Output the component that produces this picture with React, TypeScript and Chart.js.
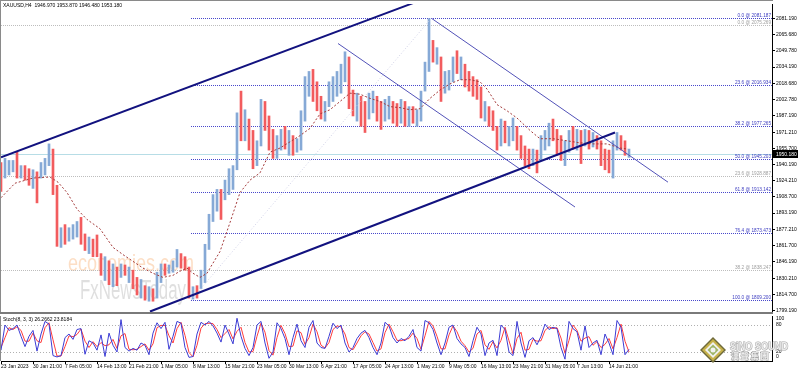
import React, { useEffect, useRef } from 'react';
import { Chart, registerables } from 'chart.js';
Chart.register(...registerables);

const FONT = "'Liberation Sans', Arial, sans-serif";
const BAR_STEP = 4;

// ---- price data (H4 bars, sampled) ----
const highs = [1942,1946,1944,1944,1952,1939,1939,1936,1935,1933,
 1942,1946,1960,1955,1920,1879,1882,1879,1882,1885,
 1889,1873,1870,1868,1872,1854,1851,1847,1844,1841,
 1844,1843,1841,1838,1831,1829,1823,1822,1820,1836,
 1844,1844,1843,1847,1858,1854,1851,1841,1822,1823,
 1838,1863,1892,1911,1916,1916,1925,1936,1939,1990,
 2011,1993,1984,1973,1963,2003,2001,1987,1974,1968,
 1974,1977,1973,1968,1965,1992,2025,2030,2032,2020,
 2006,2001,2020,2025,2030,2037,2049,2044,2012,2009,
 2006,2001,2009,2011,2006,2001,2003,2006,2001,1999,
 2003,2001,1996,1996,1993,2011,2039,2081,2060,2053,
 2044,2030,2031,2044,2050,2044,2037,2030,2025,2022,
 2015,2001,1996,1992,1977,1984,1982,1977,1985,1977,
 1968,1958,1955,1955,1954,1968,1973,1980,1984,1974,
 1968,1963,1973,1977,1974,1973,1974,1973,1971,1968,
 1963,1955,1954,1963,1971,1968,1963,1955];
const lows = [1914,1927,1930,1933,1927,1927,1925,1920,1917,1903,
 1927,1930,1939,1911,1861,1860,1863,1866,1868,1870,
 1863,1857,1854,1851,1851,1833,1828,1824,1822,1823,
 1831,1833,1826,1820,1814,1811,1809,1808,1808,1811,
 1826,1833,1835,1836,1841,1840,1838,1811,1810,1811,
 1820,1826,1858,1885,1895,1887,1906,1911,1916,1935,
 1963,1963,1954,1936,1939,1958,1973,1954,1946,1946,
 1954,1955,1949,1949,1952,1954,1982,2006,2001,1992,
 1984,1982,1996,2001,2006,2009,2020,1994,1987,1982,
 1977,1971,1984,1990,1982,1974,1982,1984,1980,1977,
 1980,1977,1977,1980,1977,1982,2011,2030,2039,2037,
 2001,2009,2012,2020,2028,2022,2015,2011,2006,2003,
 1985,1982,1977,1973,1954,1958,1961,1958,1963,1954,
 1946,1939,1936,1939,1932,1944,1954,1958,1963,1949,
 1944,1939,1952,1955,1954,1941,1958,1955,1957,1955,
 1939,1935,1932,1927,1954,1954,1949,1947];
const directions = ['duuududdud','uuudduduuu','ddudddudud','ududdududu','uduuudddud',
 'uuuuuduuuu','dudduudddu','ududuuuudd','duuuuuuddu','dduudduudd','ududuuuudu',
 'duuududddd','duddduduud','ddduduuudd','duudududud','ddduuddu'].join('');

// moving average (bar index, price)
const maBars = [0,14,32,49,57,66,76,86,99,112,122,142,152,162,172,179,186,192,199,206,209,219,229,239,249,259,269,279,289,299,309,319,329,339,349,359,369,379,389,399,409,419,429,439,449,459,469,479,486,496,506,516,529,539,552,566,579,592,606,619,627];
const maValues = [1908,1922,1927,1928,1923,1913,1897,1887,1878,1860,1853,1840,1835,1831,1833,1837,1840,1835,1831,1835,1840,1856,1884,1913,1925,1932,1952,1956,1962,1968,1975,1989,1993,2001,2009,2008,2004,2001,1996,1995,1993,1994,2004,2012,2018,2022,2022,2020,2013,1998,1992,1985,1973,1965,1965,1963,1961,1960,1960,1956,1955];

// stochastic
const stochK = [24,80,68,72,80,55,32,55,68,22,60,88,82,12,9,12,52,60,48,70,72,15,45,40,24,58,10,62,35,20,92,30,22,28,24,40,35,14,62,85,72,86,26,55,88,84,30,8,10,60,86,80,88,78,62,42,80,60,38,95,55,28,12,30,80,88,40,6,20,85,72,50,14,52,82,45,30,75,90,40,30,28,55,84,72,80,40,20,30,50,62,68,52,30,14,40,86,78,52,40,50,45,55,70,30,22,90,85,70,40,14,40,75,80,50,38,30,10,45,75,60,12,40,46,12,80,70,20,12,88,40,8,45,52,36,55,82,70,75,72,30,4,88,72,65,24,78,30,40,46,14,60,40,14,90,75,14,26];
const stochD = [30,52,74,70,76,68,44,44,62,45,41,74,85,47,11,11,32,56,54,59,71,44,30,43,32,41,34,36,48,28,56,61,26,25,26,32,38,24,38,74,79,79,56,40,72,86,57,19,9,35,73,83,84,83,70,52,61,70,49,66,75,41,20,21,55,84,64,23,13,52,79,61,32,33,67,63,37,52,82,65,35,29,41,70,78,76,60,30,25,40,56,65,60,41,22,27,63,82,65,46,45,48,50,62,50,26,56,88,78,55,27,27,58,78,65,44,34,20,28,60,68,36,26,43,29,46,75,45,16,50,64,24,26,48,44,45,68,76,72,74,51,17,46,80,68,44,51,54,35,43,30,37,50,27,52,82,44,20];
const stochLevels = [80, 20];
const stochAxisLabels = [100, 80, 20, 0];

// axes
const priceTicks = [2081.19,2065.68,2049.78,2034.19,2018.68,2002.78,1987.19,1971.21,1955.70,1940.19,1924.21,1908.70,1893.19,1877.21,1861.70,1846.19,1830.21,1814.70,1799.19];
const dateTickBars = [0,32,64,96,128,160,192,224,256,288,320,352,384,416,448,480,512,544,576,608];
const dateLabels = ['23 Jan 2023','30 Jan 21:00','7 Feb 05:00','14 Feb 13:00','21 Feb 21:00','1 Mar 05:00','8 Mar 13:00','15 Mar 21:00','23 Mar 05:00','30 Mar 13:00','6 Apr 21:00','17 Apr 05:00','24 Apr 13:00','1 May 21:00','9 May 05:00','16 May 13:00','23 May 21:00','31 May 05:00','7 Jun 13:00','14 Jun 21:00'];

// fibonacci
const blueFibLevels = ['0.0','23.6','38.2','50.0','61.8','76.4','100.0'];
const blueFibPrices = [2081.187,2016.934,1977.265,1945.203,1913.142,1873.473,1809.200];
const blueFibStartBar = 190;
const grayFibLevels = ['0.0','23.6','38.2'];
const grayFibPrices = [2075.269,1928.887,1838.247];
const grayFibStartBar = 0;

// trend lines: [startBar, startPrice, endBar, endPrice]
const thickChannel = [[0,1947,412,2096],[149,1798,614,1971]];
const thinChannel = [[431,2081,667,1923],[337,2057,574,1899]];
const fibTrend = [190,1809,430,2081];

const lastPrice = 1950.18;
const headerText = 'XAUUSD,H4  1946.970 1953.870 1946.480 1953.180';
const stochTitle = 'Stoch(8, 3, 3) 26.2662 23.8184';

const UP = '#86a9d6';
const DOWN = '#f25c5e';

const lineDs = (seg: number[], color: string, width: number, dash: number[] = []) => ({
  type: 'line' as const,
  data: [{ x: seg[0], y: seg[1] }, { x: seg[2], y: seg[3] }],
  borderColor: color,
  borderWidth: width,
  borderDash: dash,
  pointRadius: 0,
  order: 0,
});

const mainOverlay = {
  id: 'mainOverlay',
  beforeDatasetsDraw(chart: any) {
    const { ctx, chartArea: a, scales } = chart;
    const x = scales.x, y = scales.y;
    ctx.save();
    ctx.beginPath();
    ctx.rect(a.left, a.top, a.right - a.left, a.bottom - a.top);
    ctx.clip();
    // watermarks
    ctx.font = `24px ${FONT}`;
    ctx.fillStyle = 'rgba(245,160,90,0.35)';
    ctx.textBaseline = 'alphabetic';
    ctx.textAlign = 'left';
    ctx.fillText('economies.com', 68, 271, 126);
    ctx.font = `27px ${FONT}`;
    ctx.fillStyle = 'rgba(150,150,150,0.3)';
    ctx.fillText('FxNewsToday', 80, 299, 106);
    // current price line
    const py = Math.round(y.getPixelForValue(lastPrice)) + 0.5;
    ctx.strokeStyle = '#b7dde6';
    ctx.lineWidth = 1;
    ctx.beginPath(); ctx.moveTo(a.left, py); ctx.lineTo(a.right, py); ctx.stroke();
    // fib levels
    const drawFib = (levels: string[], prices: number[], start: number, color: string, textColor: string) => {
      const sx = x.getPixelForValue(start);
      ctx.strokeStyle = color;
      ctx.setLineDash([1, 1]);
      prices.forEach((p, i) => {
        const ly = Math.round(y.getPixelForValue(p)) + 0.5;
        ctx.beginPath(); ctx.moveTo(sx, ly); ctx.lineTo(a.right, ly); ctx.stroke();
        ctx.font = `4.7px ${FONT}`;
        ctx.fillStyle = textColor;
        ctx.textAlign = 'right';
        ctx.textBaseline = 'bottom';
        ctx.fillText(`${levels[i]} @ ${p.toFixed(3)}`, a.right - 1, ly - 0.5);
      });
      ctx.setLineDash([]);
    };
    drawFib(grayFibLevels, grayFibPrices, grayFibStartBar, '#bdbdbd', '#a0a0a0');
    drawFib(blueFibLevels, blueFibPrices, blueFibStartBar, '#4848cc', '#3c3cc0');
    ctx.restore();
  },
  afterDraw(chart: any) {
    const { ctx, chartArea: a, scales } = chart;
    const y = scales.y;
    ctx.save();
    ctx.fillStyle = '#8a8a8a';
    ctx.fillRect(0, 0, a.right + 1, 1);
    ctx.fillRect(0, 0, 1, a.bottom);
    ctx.fillStyle = '#7a7a7a';
    ctx.fillRect(0, a.bottom, a.right + 1, 2);
    // header
    ctx.font = `5px ${FONT}`;
    ctx.fillStyle = '#000';
    ctx.textAlign = 'left';
    ctx.textBaseline = 'middle';
    ctx.fillText(headerText, 3, 6);
    // price tag
    const py = Math.round(y.getPixelForValue(lastPrice));
    ctx.fillStyle = '#000';
    ctx.fillRect(a.right + 1, py - 4, 25, 8);
    ctx.fillStyle = '#fff';
    ctx.fillText(lastPrice.toFixed(3), a.right + 4, py + 0.5);
    ctx.restore();
  },
};

const stochOverlay = {
  id: 'stochOverlay',
  beforeDatasetsDraw(chart: any) {
    const { ctx, chartArea: a, scales } = chart;
    const y = scales.y;
    ctx.save();
    ctx.strokeStyle = '#b0b0b0';
    ctx.setLineDash([1, 2]);
    ctx.lineWidth = 1;
    stochLevels.forEach((lv) => {
      const ly = Math.round(y.getPixelForValue(lv)) + 0.5;
      ctx.beginPath(); ctx.moveTo(a.left, ly); ctx.lineTo(a.right, ly); ctx.stroke();
    });
    ctx.restore();
  },
  afterDraw(chart: any) {
    const { ctx, chartArea: a, scales } = chart;
    const y = scales.y;
    ctx.save();
    ctx.fillStyle = '#8a8a8a';
    ctx.fillRect(0, 0, 1, a.bottom);
    ctx.font = `5px ${FONT}`;
    ctx.fillStyle = '#000';
    ctx.textAlign = 'left';
    ctx.textBaseline = 'middle';
    ctx.fillText(stochTitle, 3, 3.5);
    stochAxisLabels.forEach((v) => {
      let ly = y.getPixelForValue(v);
      if (v === 100) ly += 3;
      if (v === 0) ly -= 4;
      ctx.fillText(String(v), a.right + 4, ly);
    });
    // SINO SOUND watermark
    const cx = 713, cy = 34;
    const dia = (r: number, c: string) => {
      ctx.fillStyle = c;
      ctx.beginPath();
      ctx.moveTo(cx, cy - r); ctx.lineTo(cx + r, cy); ctx.lineTo(cx, cy + r); ctx.lineTo(cx - r, cy);
      ctx.closePath(); ctx.fill();
    };
    dia(13, '#6f6a3a');
    dia(11, '#c7b24a');
    dia(8, '#f2f2f2');
    dia(5.5, '#9fb567');
    ctx.fillStyle = '#f2f2f2';
    ctx.beginPath(); ctx.arc(cx, cy, 2.5, 0, Math.PI * 2); ctx.fill();
    ctx.font = `bold 11px ${FONT}`;
    ctx.textBaseline = 'alphabetic';
    ctx.lineWidth = 1.2;
    ctx.strokeStyle = 'rgba(130,130,130,0.7)';
    ctx.strokeText('SiNO SOUND', 730, 34, 58);
    ctx.fillStyle = '#ececec';
    ctx.fillText('SiNO SOUND', 730, 34, 58);
    ctx.font = `bold 8px 'Noto Sans CJK TC', sans-serif`;
    ctx.strokeText('漢 聲 集 團', 731, 43, 56);
    ctx.fillText('漢 聲 集 團', 731, 43, 56);
    ctx.restore();
  },
};

export default function App() {
  const mainRef = useRef<HTMLCanvasElement>(null);
  const stochRef = useRef<HTMLCanvasElement>(null);

  useEffect(() => {
    document.body.style.margin = '0';
    const barData = highs.map((h, i) => ({ x: i * BAR_STEP, y: [lows[i], h] }));
    const barColors = directions.split('').map((d) => (d === 'u' ? UP : DOWN));
    const main = new Chart(mainRef.current!, {
      type: 'bar',
      data: {
        datasets: [
          lineDs(thickChannel[0], '#12127f', 2),
          lineDs(thickChannel[1], '#12127f', 2),
          lineDs(thinChannel[0], '#5252b8', 1),
          lineDs(thinChannel[1], '#5252b8', 1),
          {
            type: 'line',
            data: maBars.map((b, i) => ({ x: b, y: maValues[i] })),
            borderColor: '#a33a3a',
            borderWidth: 1,
            borderDash: [2, 2],
            pointRadius: 0,
            order: 1,
          },
          lineDs(fibTrend, '#cfd0e6', 1, [1, 2]),
          {
            type: 'bar',
            data: barData as any,
            backgroundColor: barColors,
            barThickness: 2,
            order: 5,
          },
        ] as any,
      },
      options: {
        animation: false,
        responsive: false,
        maintainAspectRatio: false,
        layout: { padding: { left: 1, top: 1, right: 0, bottom: 2 } },
        plugins: { legend: { display: false }, tooltip: { enabled: false } },
        scales: {
          x: { type: 'linear', min: 0, max: 771, display: false, offset: false },
          y: {
            type: 'linear',
            position: 'right',
            min: 1797.57,
            max: 2095.17,
            afterFit: (s: any) => { s.width = 26; },
            afterBuildTicks: (s: any) => { s.ticks = priceTicks.map((v) => ({ value: v })); },
            ticks: {
              autoSkip: false,
              font: { size: 5, family: FONT },
              color: '#000',
              padding: 1,
              callback: (v: any) => Number(v).toFixed(3),
            },
            grid: { drawOnChartArea: false, tickLength: 3, color: '#000' },
            border: { color: '#000' },
          },
        },
      } as any,
      plugins: [mainOverlay],
    });

    const stoch = new Chart(stochRef.current!, {
      type: 'line',
      data: {
        datasets: [
          {
            data: stochK.map((v, i) => ({ x: i * BAR_STEP, y: v })),
            borderColor: '#3c3cd4',
            borderWidth: 1,
            pointRadius: 0,
          },
          {
            data: stochD.map((v, i) => ({ x: i * BAR_STEP, y: v })),
            borderColor: '#ff3c3c',
            borderWidth: 1,
            pointRadius: 0,
          },
        ],
      },
      options: {
        animation: false,
        responsive: false,
        maintainAspectRatio: false,
        layout: { padding: { left: 1, top: 0, right: 0, bottom: 0 } },
        plugins: { legend: { display: false }, tooltip: { enabled: false } },
        scales: {
          x: {
            type: 'linear',
            min: 0,
            max: 771,
            afterFit: (s: any) => { s.height = 11; },
            afterBuildTicks: (s: any) => { s.ticks = dateTickBars.map((v) => ({ value: v })); },
            ticks: {
              autoSkip: false,
              maxRotation: 0,
              align: 'start',
              font: { size: 5, family: FONT },
              color: '#000',
              padding: 0,
              callback: (_v: any, idx: number) => dateLabels[idx],
            },
            grid: { drawOnChartArea: false, tickLength: 3, color: '#000' },
            border: { color: '#000' },
          },
          y: {
            type: 'linear',
            position: 'right',
            min: 0,
            max: 100,
            afterFit: (s: any) => { s.width = 26; },
            ticks: { display: false },
            grid: { display: false },
            border: { color: '#000' },
          },
        },
      } as any,
      plugins: [stochOverlay],
    });

    return () => { main.destroy(); stoch.destroy(); };
  }, []);

  return (
    <div style={{ position: 'fixed', left: 0, top: 0, width: 798, height: 372, background: '#fff' }}>
      <canvas ref={mainRef} width={798} height={316} style={{ position: 'absolute', left: 0, top: 0, width: 798, height: 316 }} />
      <canvas ref={stochRef} width={798} height={56} style={{ position: 'absolute', left: 0, top: 316, width: 798, height: 56 }} />
    </div>
  );
}
